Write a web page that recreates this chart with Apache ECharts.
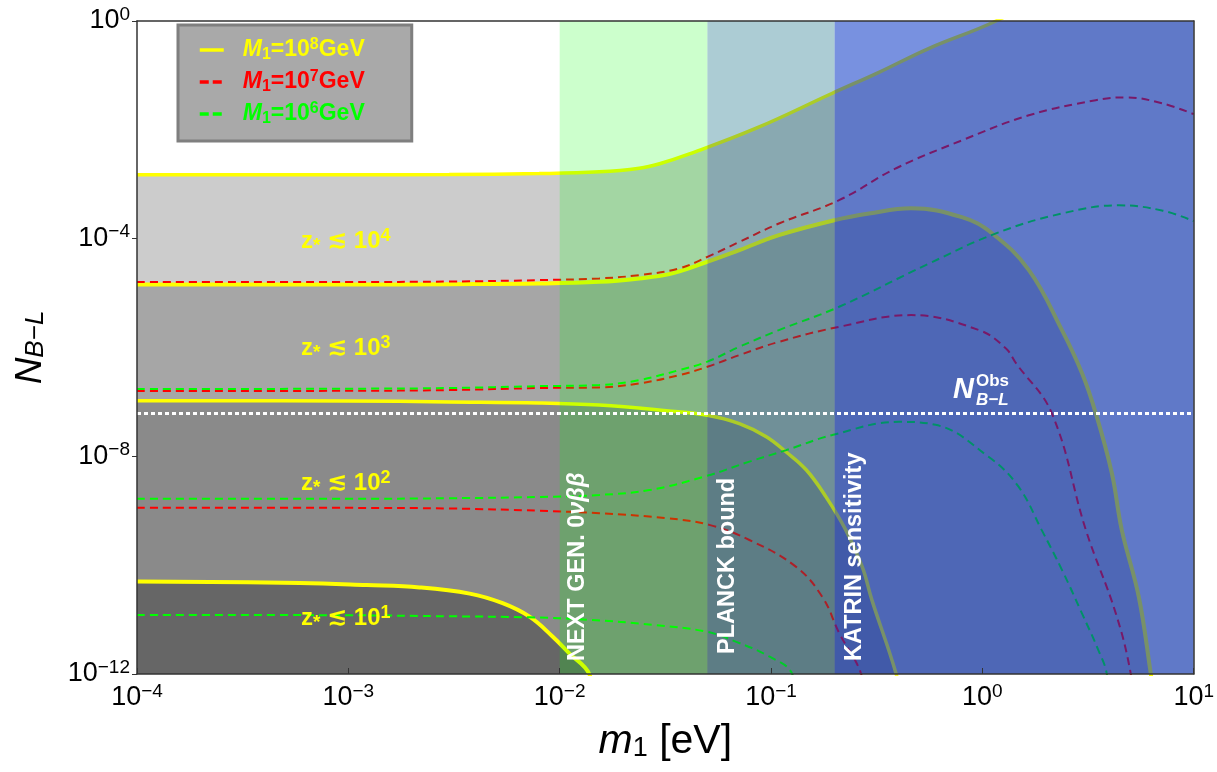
<!DOCTYPE html>
<html><head><meta charset="utf-8">
<script src="https://cdn.jsdelivr.net/npm/echarts@6/dist/echarts.min.js"></script>
<style>html,body{margin:0;padding:0;background:#fff}#c{width:1217px;height:772px}</style>
</head><body><div id="c"></div>
<script>
// ---------------- data ----------------
const X_RANGE = [1e-4, 10];
const Y_RANGE = [1e-12, 1];
const N_OBS = 6.1e-8;
const BAND_EDGES = [0.01, 0.05, 0.2, 10];           // NEXT GEN | PLANCK | KATRIN
const Z_EXPONENTS = ['4', '3', '2', '1'];
const M1_EXPONENTS = ['8', '7', '6'];
const SERIES_NAMES = ['M1=10^8 GeV', 'M1=10^7 GeV', 'M1=10^6 GeV'];

// M1 = 10^8 GeV (yellow, solid)
const Y8_A = [[1e-4,1.49e-3],[1e-3,1.5e-3],[3e-3,1.51e-3],[8e-3,1.57e-3],[0.0154,1.69e-3],[0.0238,1.97e-3],[0.0297,2.38e-3],[0.0411,3.6e-3],[0.0851,1.07e-2],[0.195,4.7e-2],[0.324,0.114],[0.56,0.315],[1.16,1.0],[10,63]];
const Y8_B = [[1e-4,1.44e-5],[1e-3,1.44e-5],[3e-3,1.46e-5],[8e-3,1.5e-5],[0.0154,1.61e-5],[0.0238,1.86e-5],[0.033,2.23e-5],[0.0458,3.33e-5],[0.0708,6.15e-5],[0.109,1.16e-4],[0.2,2.19e-4],[0.291,2.9e-4],[0.46,3.63e-4],[0.80,2.48e-4],[1.11,1.26e-4],[1.66,2.64e-5],[2.38,2.09e-6],[2.96,3.39e-7],[3.44,6.2e-8],[4.10,4.9e-9],[4.57,4.4e-10],[5.50,2.6e-11],[6.27,1e-12],[6.84,1e-13]];
const Y8_C = [[1e-4,1.05e-7],[1e-3,1.04e-7],[3e-3,1.0e-7],[8e-3,9.6e-8],[0.0154,8.75e-8],[0.032,6.9e-8],[0.05,5.7e-8],[0.0708,4.0e-8],[0.095,2.3e-8],[0.118,1.2e-8],[0.147,5.6e-9],[0.182,1.8e-9],[0.226,4.4e-10],[0.27,9.4e-11],[0.30,2.3e-11],[0.391,1e-12],[0.45,1e-13]];
const Y8_D = [[1e-4,5.0e-11],[5.9e-4,4.7e-11],[1.22e-3,4.3e-11],[2.17e-3,3.9e-11],[3.75e-3,3.0e-11],[5.37e-3,2.0e-11],[7.2e-3,1.13e-11],[9.25e-3,4.9e-12],[1.11e-2,2.4e-12],[1.38e-2,1e-12],[1.6e-2,1e-13]];
// M1 = 10^7 GeV (red, dashed)
const Y7_A = [[1e-4,1.59e-5],[1e-3,1.6e-5],[3e-3,1.63e-5],[8e-3,1.73e-5],[0.0154,1.86e-5],[0.0238,2.14e-5],[0.0368,2.84e-5],[0.05,4.63e-5],[0.0708,8.7e-5],[0.109,1.9e-4],[0.21,5.1e-4],[0.391,1.97e-3],[0.80,6.4e-3],[1.66,1.85e-2],[3.44,3.5e-2],[4.78,3.95e-2],[7.07,3.08e-2],[10,1.94e-2]];
const Y7_B = [[1e-4,1.58e-7],[1e-3,1.6e-7],[3e-3,1.65e-7],[8e-3,1.8e-7],[0.0154,1.85e-7],[0.0238,2.19e-7],[0.0368,3.11e-7],[0.05,4.42e-7],[0.0708,7.25e-7],[0.109,1.27e-6],[0.21,2.4e-6],[0.46,3.94e-6],[0.964,2.09e-6],[1.29,9.7e-7],[1.44,5.2e-7],[2.13,6.2e-8],[3.09,4.4e-10],[4.28,1.3e-11],[5.04,1e-12],[5.4,1e-13]];
const Y7_C = [[1e-4,1.14e-9],[1e-3,1.13e-9],[3e-3,1.1e-9],[8e-3,1.0e-9],[0.0154,9.0e-10],[0.032,7.3e-10],[0.051,5.5e-10],[0.079,2.9e-10],[0.131,9.4e-11],[0.175,2.6e-11],[0.21,5.7e-12],[0.267,1e-12],[0.3,1e-13]];
// M1 = 10^6 GeV (green, dashed)
const Y6_A = [[1e-4,1.72e-7],[1e-3,1.75e-7],[3e-3,1.8e-7],[8e-3,1.95e-7],[0.0154,2.04e-7],[0.0238,2.52e-7],[0.0368,3.85e-7],[0.05,5.5e-7],[0.0708,1.03e-6],[0.109,2.09e-6],[0.21,5.6e-6],[0.56,3.5e-5],[1.16,1.25e-4],[2.38,2.9e-4],[4.42,4.1e-4],[7.07,3.3e-4],[10,2.1e-4]];
const Y6_B = [[1e-4,1.66e-9],[1e-3,1.66e-9],[3e-3,1.7e-9],[8e-3,1.79e-9],[0.0154,1.95e-9],[0.0266,2.4e-9],[0.0494,4.35e-9],[0.079,8.0e-9],[0.118,1.3e-8],[0.195,2.46e-8],[0.403,4.3e-8],[0.60,3.8e-8],[1.07,9.8e-9],[1.48,2.8e-9],[1.91,4.4e-10],[2.38,8.2e-11],[2.96,1.3e-11],[3.53,2.8e-12],[3.88,1e-12],[4.1,1e-13]];
const Y6_C = [[1e-4,1.22e-11],[1e-3,1.2e-11],[3e-3,1.15e-11],[7.2e-3,1.1e-11],[1.38e-2,9.9e-12],[2.75e-2,8.0e-12],[4.94e-2,6.0e-12],[6.85e-2,3.9e-12],[9.8e-2,2.1e-12],[0.126,1e-12],[0.14,1e-13]];

// ---------------- chart ----------------
const FONT = '"Liberation Sans", Arial, sans-serif';
const chart = echarts.init(document.getElementById('c'), null, {renderer: 'canvas'});

function expLabel(v) {
  const e = Math.round(Math.log10(v));
  return '{b|10}{s|' + (e < 0 ? '\u2212' + (-e) : e) + '}';
}
const tickRich = {
  b: {fontSize: 27, fontFamily: FONT, color: '#000', lineHeight: 32},
  s: {fontSize: 19, fontFamily: FONT, color: '#000', verticalAlign: 'top', lineHeight: 18}
};

const SMOOTH = 0.4;
const fillDefs = [[Y8_A, '#cccccc'], [Y8_B, '#a6a6a6'], [Y8_C, '#8a8a8a'], [Y8_D, '#666666']];
const lineDefs = [
  [Y8_A, 0, '#ffff00', 3.5, 'solid'], [Y8_B, 0, '#ffff00', 4, 'solid'],
  [Y8_C, 0, '#ffff00', 3.5, 'solid'], [Y8_D, 0, '#ffff00', 4, 'solid'],
  [Y7_A, 1, '#ff0000', 2, [8, 5]], [Y7_B, 1, '#ff0000', 2, [8, 5]], [Y7_C, 1, '#ff0000', 2, [8, 5]],
  [Y6_A, 2, '#00ff00', 2, [8, 5]], [Y6_B, 2, '#00ff00', 2, [8, 5]], [Y6_C, 2, '#00ff00', 2, [8, 5]]
];

const series = [];
fillDefs.forEach(([d, c]) => series.push({
  type: 'line', data: d, smooth: SMOOTH, symbol: 'none', silent: true, z: 1,
  lineStyle: {width: 0, opacity: 0}, areaStyle: {color: c, opacity: 1, origin: 'start'}
}));
lineDefs.forEach(([d, k, c, w, t]) => series.push({
  type: 'line', name: SERIES_NAMES[k], data: d, smooth: SMOOTH, symbol: 'none', showSymbol: false, silent: true, z: 2,
  color: c, lineStyle: {color: c, width: w, type: t}
}));
const bandColors = ['rgba(0,255,0,0.2)', 'rgba(0,98,123,0.325)', 'rgba(0,47,196,0.53)'];
series.push({
  type: 'line', data: [], silent: true, z: 3,
  markArea: {
    silent: true, z: 3,
    data: bandColors.map((c, i) => [{xAxis: BAND_EDGES[i], itemStyle: {color: c, borderWidth: 0}}, {xAxis: BAND_EDGES[i + 1]}])
  }
});
series.push({
  type: 'line', data: [[X_RANGE[0], N_OBS], [X_RANGE[1], N_OBS]], symbol: 'none', silent: true, z: 4,
  lineStyle: {color: '#ffffff', width: 3, type: [4, 3]}
});

const legendColors = {y: '#ffff00', r: '#ff0000', g: '#00ff00'};
const legendRich = {};
Object.keys(legendColors).forEach(k => {
  const c = legendColors[k];
  legendRich[k + 'M'] = {color: c, fontSize: 23, fontWeight: 'bold', fontStyle: 'italic', fontFamily: FONT, lineHeight: 26};
  legendRich[k + 's'] = {color: c, fontSize: 16, fontWeight: 'bold', fontFamily: FONT, verticalAlign: 'bottom', lineHeight: 14};
  legendRich[k + 't'] = {color: c, fontSize: 23, fontWeight: 'bold', fontFamily: FONT, lineHeight: 26};
  legendRich[k + 'p'] = {color: c, fontSize: 16, fontWeight: 'bold', fontFamily: FONT, verticalAlign: 'top', lineHeight: 14};
});

const zRich = {
  a: {fill: '#ffff00', fontSize: 24, fontWeight: 'bold', fontFamily: FONT, lineHeight: 28},
  sub: {fill: '#ffff00', fontSize: 19, fontWeight: 'bold', fontFamily: FONT, verticalAlign: 'bottom', lineHeight: 12},
  sym: {fill: '#ffff00', fontSize: 24, fontWeight: 'bold', fontFamily: '"DejaVu Sans", sans-serif', lineHeight: 28},
  sup: {fill: '#ffff00', fontSize: 18, fontWeight: 'bold', fontFamily: FONT, verticalAlign: 'top', lineHeight: 16}
};
const zY = [243, 350, 485, 620];
const bandTextStyle = {fill: '#ffffff', fontSize: 23, fontWeight: 'bold', fontFamily: FONT, align: 'left', verticalAlign: 'middle'};

const graphic = [];
Z_EXPONENTS.forEach((e, i) => graphic.push({
  type: 'text', left: 301, top: zY[i] - 16, z: 20, silent: true,
  style: {text: '{a|z}{sub|*}{a| }{sym|\u2272}{a| 10}{sup|' + e + '}', rich: zRich}
}));
[
  {x: 578, y: 661, text: '{n|NEXT GEN. 0}{i|\u03bd\u03b2\u03b2}'},
  {x: 728, y: 654, text: '{n|PLANCK bound}'},
  {x: 855, y: 661, text: '{n|KATRIN sensitivity}'}
].forEach(o => graphic.push({
  type: 'text', x: o.x, y: o.y, rotation: Math.PI / 2, z: 20, silent: true,
  style: Object.assign({}, bandTextStyle, {text: o.text, rich: {
    n: {fill: '#fff', fontSize: 23.5, fontWeight: 'bold', fontFamily: FONT},
    i: {fill: '#fff', fontSize: 23.5, fontWeight: 'bold', fontStyle: 'italic', fontFamily: FONT}
  }})
}));
graphic.push({type: 'text', x: 953, y: 390, z: 20, silent: true,
  style: {text: 'N', fill: '#fff', fontSize: 29, fontWeight: 'bold', fontStyle: 'italic', fontFamily: FONT, verticalAlign: 'middle'}});
graphic.push({type: 'text', x: 976, y: 381, z: 20, silent: true,
  style: {text: 'Obs', fill: '#fff', fontSize: 17, fontWeight: 'bold', fontFamily: FONT, verticalAlign: 'middle'}});
graphic.push({type: 'text', x: 976, y: 400, z: 20, silent: true,
  style: {text: 'B\u2212L', fill: '#fff', fontSize: 17, fontWeight: 'bold', fontStyle: 'italic', fontFamily: FONT, verticalAlign: 'middle'}});

const axisCommon = {
  type: 'log', logBase: 10, splitLine: {show: false}, z: 10,
  axisLine: {show: true, lineStyle: {color: '#333', width: 1.5}}
};

const legendDash = ['solid', [9, 4], [9, 4]];
chart.setOption({
  animation: false,
  backgroundColor: '#fff',
  grid: {left: 137, right: 22, top: 21, bottom: 98, containLabel: false},
  xAxis: [
    Object.assign({}, axisCommon, {
      min: X_RANGE[0], max: X_RANGE[1], position: 'bottom',
      axisTick: {show: true, inside: true, length: 6, lineStyle: {color: '#333'}},
      axisLabel: {margin: 8, formatter: expLabel, rich: tickRich},
      name: '{m|m}{s|1}{t| [eV]}', nameLocation: 'middle', nameGap: 47,
      nameTextStyle: {rich: {
        m: {fontSize: 41, fontStyle: 'italic', fontFamily: FONT, color: '#000'},
        s: {fontSize: 27, fontFamily: FONT, color: '#000', verticalAlign: 'bottom'},
        t: {fontSize: 41, fontFamily: FONT, color: '#000'}
      }}
    }),
    Object.assign({}, axisCommon, {min: X_RANGE[0], max: X_RANGE[1], position: 'top',
      axisTick: {show: false}, axisLabel: {show: false}})
  ],
  yAxis: [
    Object.assign({}, axisCommon, {
      min: Y_RANGE[0], max: Y_RANGE[1], interval: 4, position: 'left',
      axisTick: {show: true, inside: false, length: 5, lineStyle: {color: '#333'}},
      axisLabel: {margin: 7, formatter: expLabel, rich: tickRich},
      name: '{n|N}{s|B\u2212L}', nameLocation: 'middle', nameGap: 88, nameRotate: 90,
      nameTextStyle: {rich: {
        n: {fontSize: 37, fontStyle: 'italic', fontFamily: FONT, color: '#000'},
        s: {fontSize: 26, fontStyle: 'italic', fontFamily: FONT, color: '#000', verticalAlign: 'bottom'}
      }}
    }),
    Object.assign({}, axisCommon, {min: Y_RANGE[0], max: Y_RANGE[1], position: 'right',
      axisTick: {show: false}, axisLabel: {show: false}})
  ],
  legend: {
    left: 178, top: 25, orient: 'vertical', z: 20,
    backgroundColor: '#a9a9a9', borderColor: '#7f7f7f', borderWidth: 3,
    padding: [12, 47, 14, 20], itemWidth: 24, itemHeight: 14, itemGap: 6,
    itemStyle: {opacity: 0},
    data: SERIES_NAMES.map((n, i) => ({name: n, lineStyle: {width: 3.5, type: legendDash[i]}})),
    selectedMode: false,
    formatter: function (name) {
      const i = SERIES_NAMES.indexOf(name);
      const k = ['y', 'r', 'g'][i];
      return '{' + k + 'M|M}{' + k + 's|1}{' + k + 't|=10}{' + k + 'p|' + M1_EXPONENTS[i] + '}{' + k + 't|GeV}';
    },
    textStyle: {padding: [0, 0, 0, 14], rich: legendRich}
  },
  graphic: graphic,
  series: series
});
</script></body></html>
